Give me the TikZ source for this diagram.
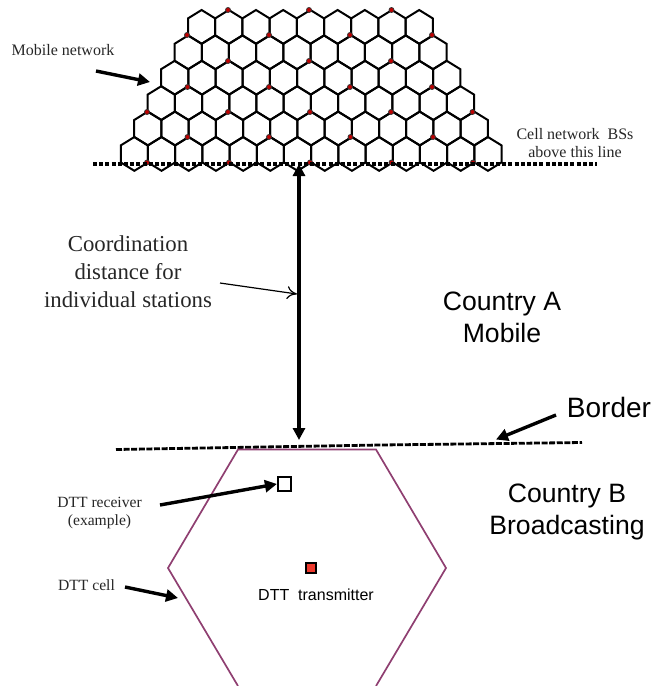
\documentclass[tikz,border=0pt]{standalone}
\usepackage{fontspec}
\setmainfont{Liberation Serif}
\newfontfamily\arialfont{Liberation Sans}
\usetikzlibrary{arrows.meta}
\definecolor{cellpurple}{HTML}{8F3F71}
\definecolor{txred}{HTML}{EE3A2E}
\tikzset{
  hexline/.style={draw=black,line width=2pt,line join=miter},
  bsdot/.style={circle,fill=red!75!black,draw=black!80,line width=0.8pt,inner sep=0pt,minimum size=5pt},
  boldarrow/.style={line width=3.4pt,-{Triangle[length=12pt,width=12pt]}},
  thinarrow/.style={line width=1.2pt,-{To[length=10pt,width=13pt]}},
  smalltext/.style={font=\fontsize{16}{20}\selectfont,align=center,inner sep=0pt,text=black!85},
  celltext/.style={font=\fontsize{15.6}{18}\selectfont,align=center,inner sep=0pt,text=black!85},
  midtext/.style={font=\fontsize{22.8}{28}\selectfont,align=center,inner sep=0pt,text=black!85},
  largetext/.style={font=\arialfont\fontsize{26.6}{32}\selectfont,align=center,inner sep=0pt},
  bordertext/.style={font=\arialfont\fontsize{28}{32}\selectfont,inner sep=0pt},
  sanstext/.style={font=\arialfont\fontsize{16}{18}\selectfont,inner sep=0pt},
  marksquare/.style={draw=black,line width=1.7pt,minimum size=13.5pt,inner sep=0pt,fill=white},
}
\begin{document}
\begin{tikzpicture}[x=1pt,y=-1pt]
\useasboundingbox (0,0) rectangle (664,686);
% hexagonal mobile network: rows listed as row index / hex count
\foreach \r/\n in {0/9,1/10,2/11,3/12,4/13,5/14}{
  \pgfmathsetmacro{\rowy}{10+25.4*\r}
  \pgfmathsetmacro{\rowx}{188-13.45*\r}
  \pgfmathtruncatemacro{\last}{\n-1}
  \foreach \k in {0,...,\last}{
    \pgfmathsetmacro{\hx}{\rowx+27.2*\k}
    \draw[hexline] (\hx,\rowy+8.4) -- (\hx+13.6,\rowy) -- (\hx+27.2,\rowy+8.4)
      -- (\hx+27.2,\rowy+25.4) -- (\hx+13.6,\rowy+33.8) -- (\hx,\rowy+25.4) -- cycle;
  }
}
% base stations
\foreach \x/\y in {228/10,309/10,391.5/10,
  187/35,269/35,350/35,432/35,
  228/61,309/61,391/61,
  187.5/87,269/87,350/87,432/87,
  147/112,228/112,310/112,391/112,472.5/112,
  187.5/137,269/137,350.5/137,433/137,
  147/162.5,229/162.5,310/162.5,391.5/162.5,473/162.5}{
  \node[bsdot] at (\x,\y) {};
}
% network limit
\coordinate (limitL) at (93,164);
\coordinate (limitR) at (597,164);
\draw[line width=3.6pt,dash pattern=on 4pt off 2.2pt] (limitL) -- (limitR);
% border
\coordinate (borderL) at (116,449.5);
\coordinate (borderM) at (380,445);
\coordinate (borderR) at (582,442.5);
\draw[line width=2.8pt,dash pattern=on 6pt off 1.6pt] (borderL) -- (borderM) -- (borderR);
% DTT cell
\draw[cellpurple,line width=1.7pt,line join=miter]
  (238,686) -- (168,568) -- (238,449.5) -- (376,449.5) -- (446,568) -- (376,686);
% marks
\node[marksquare] (receiver) at (284.5,484) {};
\node[marksquare,fill=txred,minimum size=10.5pt] (transmitter) at (311,568) {};
% texts
\node[smalltext] (mobnet) at (63,50) {Mobile network};
\node[smalltext] (cellbs) at (575,143) {Cell network\ \ BSs\\[-2pt]above this line};
\node[midtext] (coord) at (128,272) {Coordination\\distance for\\individual stations};
\node[largetext] (countrya) at (502,317) {Country A\\Mobile};
\node[bordertext] (border) at (609,407.5) {Border};
\node[largetext] (countryb) at (567,511.5) {Country B\\Broadcasting};
\node[celltext] (rxtext) at (99.5,513) {DTT receiver\\(example)};
\node[celltext] (celltext) at (86.5,585) {DTT cell};
\node[sanstext] (txtext) at (316,594.5) {DTT\ \ transmitter};
% arrows
\coordinate (mobstart) at (96,71);
\coordinate (mobend) at (150,82);
\coordinate (rxstart) at (160,505);
\coordinate (bstart) at (556,415);
\coordinate (bend) at (496,439.5);
\coordinate (cstart) at (125,587);
\coordinate (cend) at (178,598);
\coordinate (dtop) at (299,164);
\coordinate (dbot) at (299,440);
\coordinate (tstart) at (220,283);
\coordinate (tend) at (297,294);
\draw[boldarrow] (mobstart) -- (mobend);
\draw[boldarrow] (rxstart) -- (receiver.west);
\draw[boldarrow] (bstart) -- (bend);
\draw[boldarrow] (cstart) -- (cend);
\draw[line width=4.2pt,{Triangle[length=12pt,width=12pt]}-{Triangle[length=12pt,width=12pt]}] (dtop) -- (dbot);
\draw[thinarrow] (tstart) -- (tend);
\end{tikzpicture}
\end{document}
